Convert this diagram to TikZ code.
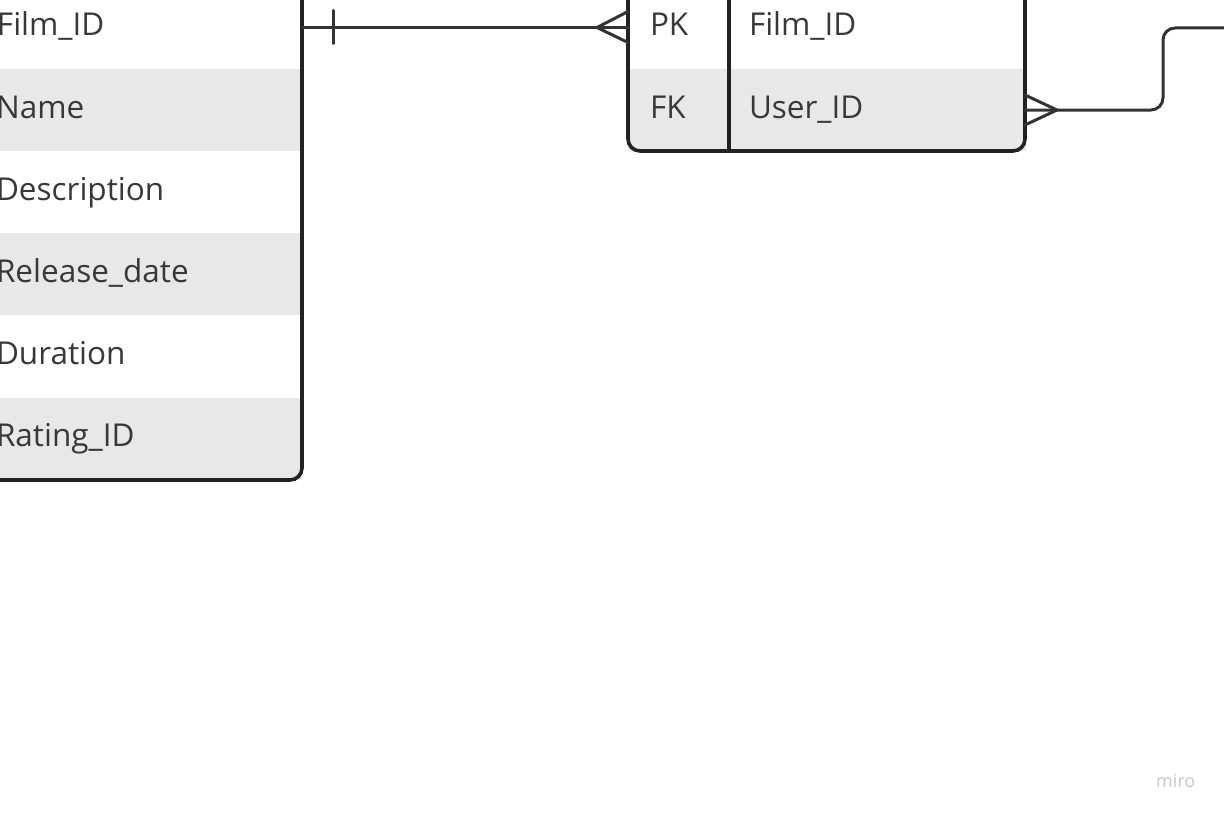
\documentclass[tikz,border=0pt]{standalone}
\usepackage{fontspec}
\setmainfont{Open Sans}
\definecolor{rowgray}{HTML}{E8E8E8}
\definecolor{txt}{HTML}{383838}
\definecolor{border}{HTML}{222222}
\definecolor{linec}{HTML}{333333}
\definecolor{wm}{HTML}{C6C6CE}
\newcommand{\tabfont}{\fontsize{31.5}{36}\selectfont}
\tikzset{
  rowbg/.style={fill=rowgray, draw=none},
  lbl/.style={anchor=base west, inner sep=0pt, outer sep=0pt, text=txt, font=\tabfont},
  tbl/.style={draw=border, line width=3.6pt, rounded corners=12pt},
  divider/.style={draw=border, line width=3.2pt},
  conn/.style={draw=linec, line width=3pt, line cap=round, line join=round},
}
\begin{document}
\begin{tikzpicture}[x=1pt,y=-1pt]
\useasboundingbox (0,0) rectangle (1224,816);
\clip (0,0) rectangle (1224,816);
\fill[white] (0,0) rectangle (1224,816);

% ---- left table (Film) ----
\fill[rowgray] (-20,69) rectangle (302,151);
\fill[rowgray] (-20,233) rectangle (302,315);
\fill[rowgray] (-20,398) rectangle (302,480);
\draw[tbl] (302,-20) -- (302,480) -- (-20,480);
\node[lbl] (lf1) at (-3,36) {Film\_ID};
\node[lbl] (lf2) at (-4,118) {Name};
\node[lbl] (lf3) at (-4,200) {Description};
\node[lbl] (lf4) at (-4,282) {Release\_date};
\node[lbl] (lf5) at (-4,364) {Duration};
\node[lbl] (lf6) at (-4,446) {Rating\_ID};

% ---- right table ----
\fill[rowgray] (628,69) rectangle (1026,151);
\draw[tbl] (628,-20) -- (628,151) -- (1025,151) -- (1025,-20);
\draw[divider] (729,-20) -- (729,151);
\node[lbl] (rk1) at (650,36) {PK};
\node[lbl] (rf1) at (749,36) {Film\_ID};
\node[lbl] (rk2) at (650,118) {FK};
\node[lbl] (rf2) at (749,118) {User\_ID};

% ---- connector anchors ----
\coordinate (LfilmE) at (302,27.5);
\coordinate (RfilmW) at (628,27.5);
\coordinate (RuserE) at (1025,110);
\coordinate (offR) at (1250,28);

% ---- connector 1: one (bar) to many (crow's foot) ----
\draw[conn] (LfilmE) -- (RfilmW);
\draw[conn] ([xshift=31pt,yshift=-16pt]LfilmE) -- ([xshift=31pt,yshift=17pt]LfilmE);
\draw[conn] ([yshift=-15pt]RfilmW) -- ([xshift=-31pt]RfilmW) -- ([yshift=16pt]RfilmW);

% ---- connector 2: many (crow's foot) to off-page ----
\draw[conn, rounded corners=12pt] (RuserE) -- (1163,110) -- (1163,28) -- (offR);
\draw[conn] ([yshift=-15pt]RuserE) -- ([xshift=32pt]RuserE) -- ([yshift=15pt]RuserE);

% ---- watermark ----
\node[anchor=base west, inner sep=0pt, text=wm, font=\fontsize{18}{20}\selectfont] (miro) at (1156,787) {miro};
\end{tikzpicture}
\end{document}
